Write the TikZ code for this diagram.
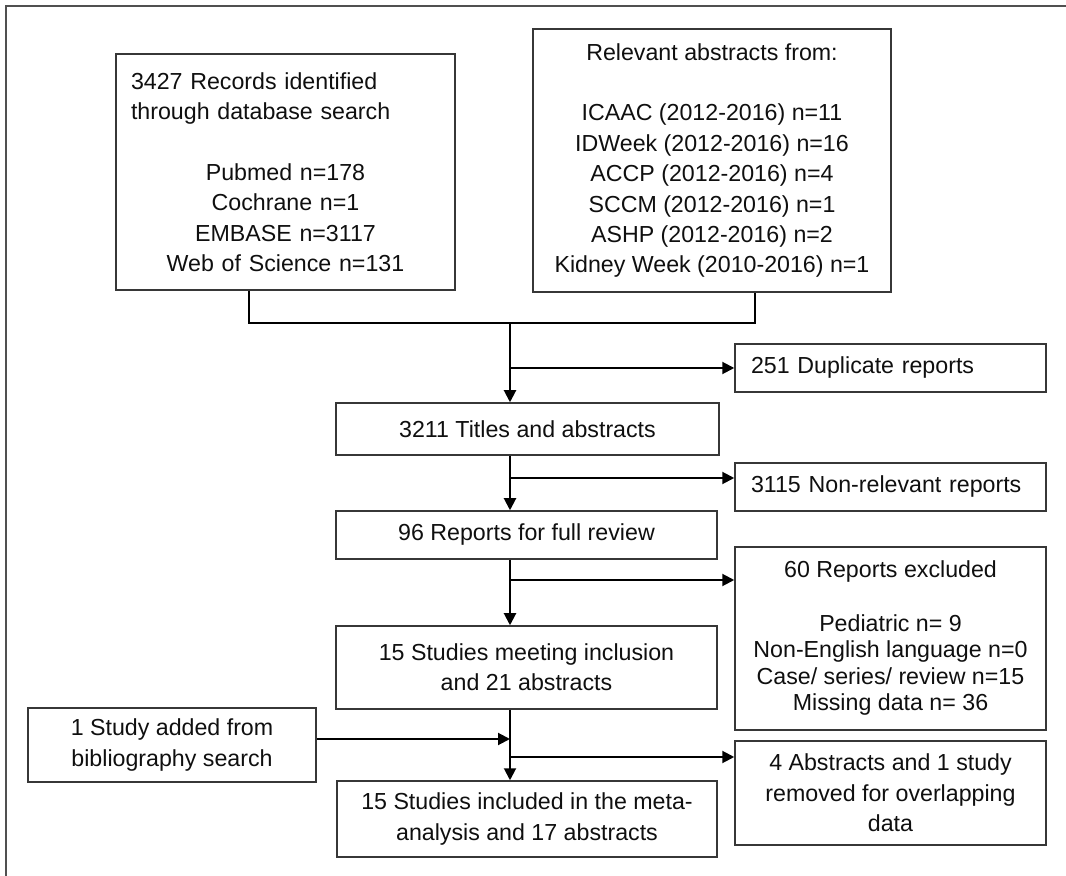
\documentclass[tikz,border=0pt]{standalone}
\usepackage{fontspec}
\setmainfont{Liberation Sans}
\usetikzlibrary{arrows.meta}

\begin{document}
\begin{tikzpicture}[
    x=0.5pt, y=-0.5pt,
    every node/.style={
        font=\fontsize{11.6}{15.2}\selectfont
    },
    box/.style={
        draw=boxcolor,
        rectangle,
        line width=0.75pt,
        align=center,
        inner sep=0pt,
        text=textcolor
    },
    mainbox/.style={
        box,
        minimum width=190.5pt
    },
    sidebox/.style={
        box,
        minimum width=155.5pt
    },
    leftbox/.style={
        sidebox,
        align=left,
        text width=139.5pt
    },
    arrow/.style={-{Triangle[length=6pt, width=6pt]}, line width=1pt},
    line/.style={line width=1pt},
    frame/.style={draw=framecolor, line width=0.75pt}
]

%--- Color Definitions ---%
\definecolor{boxcolor}{RGB}{55,55,55}
\definecolor{textcolor}{RGB}{15,15,15}
\definecolor{framecolor}{RGB}{80,80,80}

\useasboundingbox (0,0) rectangle (1066,876);

%-----------------------------------------------
% OUTER FRAME
%-----------------------------------------------
\draw[frame] (6,880) -- (6,6) -- (1070,6);

%-----------------------------------------------
% SOURCES
%-----------------------------------------------
\node[box, minimum width=169.5pt, minimum height=118pt,
      text width=154.5pt]
    (records) at (285.5,172)
    {\makebox[\hsize][l]{3427 Records identified}\\
     \makebox[\hsize][l]{through database search}\\[15.2pt]
     Pubmed n=178\\
     Cochrane n=1\\
     EMBASE n=3117\\
     Web of Science n=131};

\node[box, minimum width=179pt, minimum height=131.5pt]
    (abstracts) at (712,160.5)
    {Relevant abstracts from:\\[15.2pt]
     ICAAC (2012-2016) n=11\\
     IDWeek (2012-2016) n=16\\
     ACCP (2012-2016) n=4\\
     SCCM (2012-2016) n=1\\
     ASHP (2012-2016) n=2\\
     Kidney Week (2010-2016) n=1};

%-----------------------------------------------
% MAIN COLUMN
%-----------------------------------------------
\node[mainbox, minimum width=191.5pt, minimum height=26pt]
    (titles) at (527.5,429) {3211 Titles and abstracts};

\node[mainbox, minimum height=24pt]
    (fullrev) at (526.5,535) {96 Reports for full review};

\node[mainbox, minimum height=41.5pt]
    (meeting) at (526.5,667.5) {15 Studies meeting inclusion\\
                                and 21 abstracts};

\node[mainbox, minimum width=190pt, minimum height=38pt]
    (final) at (527,819) {15 Studies included in the meta-\\
                          analysis and 17 abstracts};

%-----------------------------------------------
% SIDE COLUMN
%-----------------------------------------------
\node[leftbox, minimum height=24pt]
    (dup) at (890.5,368) {251 Duplicate reports};

\node[leftbox, minimum height=24pt]
    (nonrel) at (890.5,487) {3115 Non-relevant reports};

\node[sidebox, minimum height=91.5pt,
      font=\fontsize{11.6}{13.3}\selectfont]
    (excl) at (890.5,638.5)
    {60 Reports excluded\\[13.3pt]
     Pediatric n= 9\\
     Non-English language n=0\\
     Case/ series/ review n=15\\
     Missing data n= 36};

\node[sidebox, minimum height=52pt]
    (overlap) at (890.5,793) {4 Abstracts and 1 study\\
                              removed for overlapping\\
                              data};

\node[box, minimum width=144pt, minimum height=37pt]
    (bib) at (172,745) {1 Study added from\\
                        bibliography search};

%-----------------------------------------------
% JOINTS ON THE SPINE
%-----------------------------------------------
\coordinate (recjoin) at (249,323);
\coordinate (absjoin) at (755,323);
\coordinate (spine)   at (510,323);
\coordinate (b2)      at (510,478);
\coordinate (b3)      at (510,580);
\coordinate (bibin)   at (510,739);
\coordinate (b4)      at (510,757);

%-----------------------------------------------
% ARROWS
%-----------------------------------------------
\draw[line] (records.south -| recjoin) -- (recjoin) -- (absjoin)
            -- (abstracts.south -| absjoin);
\draw[arrow] (spine) -- (titles.north -| spine);
\draw[arrow] (spine |- dup.west) -- (dup.west);

\draw[arrow] (titles.south -| spine) -- (fullrev.north -| spine);
\draw[arrow] (b2) -- (b2 -| nonrel.west);

\draw[arrow] (fullrev.south -| spine) -- (meeting.north -| spine);
\draw[arrow] (b3) -- (b3 -| excl.west);

\draw[arrow] (meeting.south -| spine) -- (final.north -| spine);
\draw[arrow] (bib.east |- bibin) -- (bibin);
\draw[arrow] (b4) -- (b4 -| overlap.west);

\end{tikzpicture}
\end{document}
